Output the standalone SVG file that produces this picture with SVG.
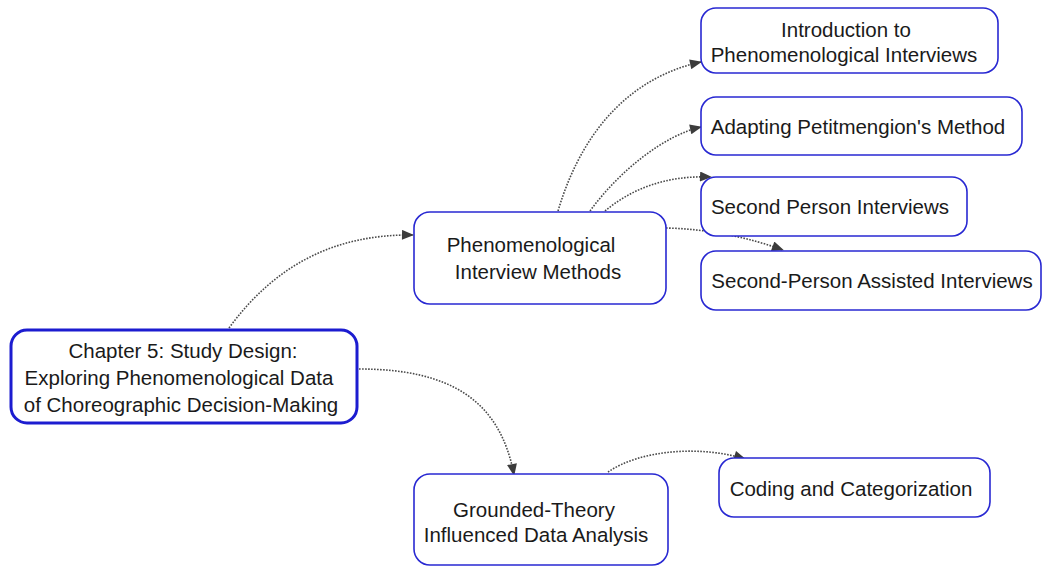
<svg xmlns="http://www.w3.org/2000/svg" width="1043" height="566" viewBox="0 0 1043 566">
  <defs>
    <marker id="arrow" viewBox="0 0 12 10" refX="11" refY="5" markerWidth="13" markerHeight="10" markerUnits="userSpaceOnUse" orient="auto">
      <path d="M0,0 L12,5 L0,10 z" fill="#3c3c3c"/>
    </marker>
    <style>
      .node rect { fill: #ffffff; stroke: #2828d2; stroke-width: 1.6; }
      .node.root rect { stroke: #1c1cd0; stroke-width: 3; }
      .node text { font-family: "Liberation Sans", Arial, sans-serif; font-size: 20.5px; fill: #1a1a1a; text-anchor: middle; }
      .edges path { fill: none; stroke: #4a4a4a; stroke-width: 1.6; stroke-dasharray: 1.6 1.4; marker-end: url(#arrow); }
    </style>
  </defs>
  <rect width="1043" height="566" fill="#ffffff"/>

  <g class="edges">
    <path d="M229,328 C275,265 335,234 413,235"/>
    <path d="M359,369 C450,369 500,400 514,475"/>
    <path d="M558,211 C585,120 640,75 701,62"/>
    <path d="M590,211 C620,170 665,135 701,127"/>
    <path d="M605,211 C630,190 665,175 711,177"/>
    <path d="M666,228 C710,229 750,238 783,250"/>
    <path d="M608,472 C640,450 700,445 745,459"/>
  </g>

  <g id="root" class="node root">
    <rect x="11" y="330" width="346" height="93" rx="16"/>
    <text x="183" y="358">Chapter 5: Study Design:</text>
    <text x="179" y="385">Exploring Phenomenological Data</text>
    <text x="181" y="412">of Choreographic Decision-Making</text>
  </g>

  <g id="phen-methods" class="node">
    <rect x="414" y="212" width="252" height="92" rx="16"/>
    <text x="531" y="252">Phenomenological</text>
    <text x="538" y="279">Interview Methods</text>
  </g>

  <g id="intro" class="node">
    <rect x="701" y="8" width="297" height="65" rx="15"/>
    <text x="846" y="37">Introduction to</text>
    <text x="844" y="62">Phenomenological Interviews</text>
  </g>

  <g id="adapting" class="node">
    <rect x="701" y="97" width="321" height="58" rx="15"/>
    <text x="858" y="134">Adapting Petitmengion's Method</text>
  </g>

  <g id="second-person" class="node">
    <rect x="701" y="177" width="266" height="59" rx="15"/>
    <text x="830" y="214">Second Person Interviews</text>
  </g>

  <g id="second-person-assisted" class="node">
    <rect x="701" y="251" width="340" height="59" rx="15"/>
    <text x="872" y="288">Second-Person Assisted Interviews</text>
  </g>

  <g id="grounded" class="node">
    <rect x="414" y="474" width="254" height="91" rx="16"/>
    <text x="534" y="517">Grounded-Theory</text>
    <text x="536" y="542">Influenced Data Analysis</text>
  </g>

  <g id="coding" class="node">
    <rect x="719" y="458" width="271" height="59" rx="15"/>
    <text x="851" y="496">Coding and Categorization</text>
  </g>
</svg>
